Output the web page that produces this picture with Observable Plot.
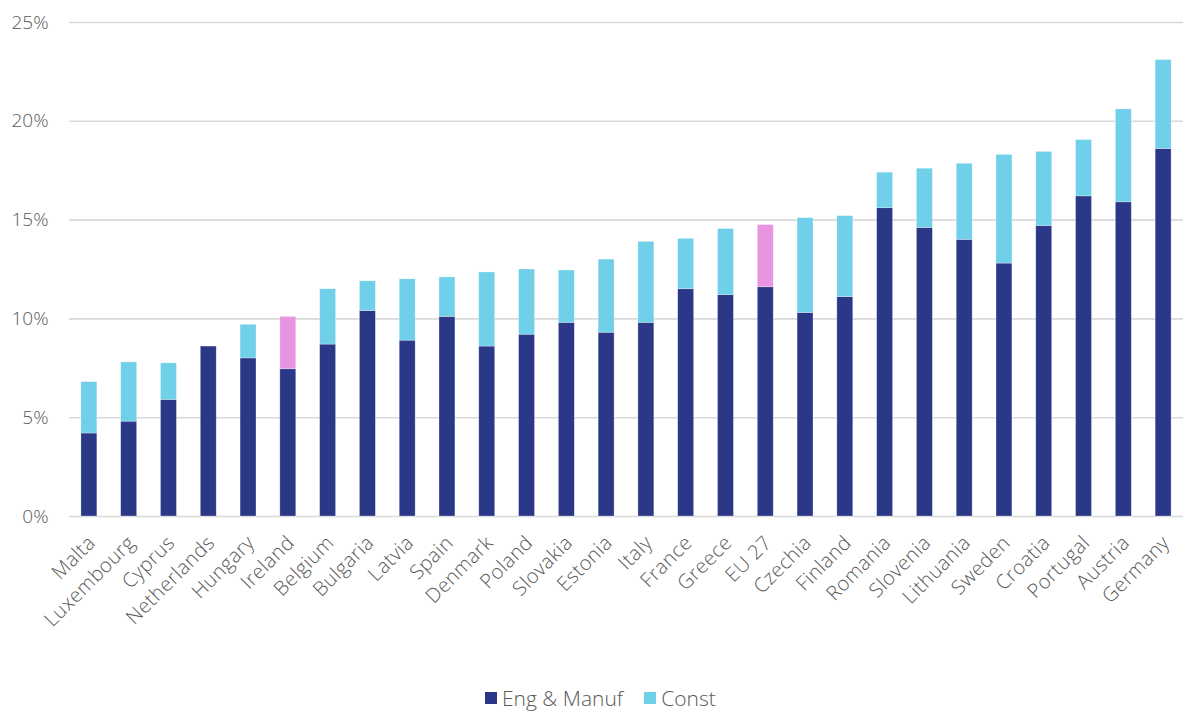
<!DOCTYPE html>
<html>
<head>
<meta charset="utf-8">
<script src="https://cdn.jsdelivr.net/npm/d3@7"></script>
<script src="https://cdn.jsdelivr.net/npm/@observablehq/plot@0.6"></script>
<style>
  html, body { margin: 0; padding: 0; background: #fff; }
  body { width: 1183px; font-family: "Open Sans", Lato, sans-serif; font-weight: 300; }
  #chart svg { display: block; }
  .legend {
    display: flex; align-items: center; height: 26px;
    padding-left: 485px; color: #595959; font-size: 21px; line-height: 26px;
  }
  .legend .item { display: flex; align-items: center; margin-right: 21px; }
  .legend .sw { width: 12px; height: 12px; margin-right: 5px; }
  .xlab text { letter-spacing: 0.4px; }
</style>
</head>
<body>
<div id="chart"></div>
<div class="legend" id="legend"></div>
<script>
// Share of employment, by country (per cent)
const countries = [
  "Malta", "Luxembourg", "Cyprus", "Netherlands", "Hungary", "Ireland", "Belgium",
  "Bulgaria", "Latvia", "Spain", "Denmark", "Poland", "Slovakia", "Estonia", "Italy",
  "France", "Greece", "EU 27", "Czechia", "Finland", "Romania", "Slovenia",
  "Lithuania", "Sweden", "Croatia", "Portugal", "Austria", "Germany"
];
const engManuf = [
  4.2, 4.8, 5.9, 8.6, 8.0, 7.45, 8.7, 10.4, 8.9, 10.1, 8.6, 9.2, 9.8, 9.3, 9.8,
  11.5, 11.2, 11.6, 10.3, 11.1, 15.6, 14.6, 14.0, 12.8, 14.7, 16.2, 15.9, 18.6
];
const construction = [
  2.6, 3.0, 1.85, 0, 1.7, 2.65, 2.8, 1.5, 3.1, 2.0, 3.75, 3.3, 2.65, 3.7, 4.1,
  2.55, 3.35, 3.15, 4.8, 4.1, 1.8, 3.0, 3.85, 5.5, 3.75, 2.85, 4.7, 4.5
];
const highlighted = ["Ireland", "EU 27"];
const seriesNames = ["Eng & Manuf", "Const"];
const yTicks = [0, 5, 10, 15, 20, 25];

const navy = "#2b3888", sky = "#70cfe9", pink = "#e894e0";

const rows = [];
countries.forEach((c, i) => {
  rows.push({country: c, series: "Eng & Manuf", key: "eng", value: engManuf[i]});
  rows.push({country: c, series: "Const", key: highlighted.includes(c) ? "constHL" : "const", value: construction[i]});
});

const chart = Plot.plot({
  width: 1183,
  height: 685,
  marginLeft: 69,
  marginRight: 0,
  marginTop: 22,
  marginBottom: 169,
  style: {fontFamily: "'Open Sans', Lato, sans-serif", fontWeight: 300, color: "#595959", background: "#fff"},
  x: {domain: countries, paddingInner: 0.6, paddingOuter: 0.3, round: false, label: null},
  y: {domain: [0, 25], label: null},
  color: {domain: ["eng", "const", "constHL"], range: [navy, sky, pink]},
  marks: [
    Plot.ruleY(yTicks, {stroke: "#d9d9d9", strokeWidth: 1.6}),
    Plot.barY(rows, Plot.stackY({
      x: "country", y: "value", fill: "key",
      stroke: "#ffffff", strokeOpacity: 0.45, strokeWidth: 0.6
    })),
    Plot.axisY({
      ticks: yTicks, tickFormat: d => d + "%", tickSize: 0, tickPadding: 21,
      fontSize: 19, fill: "#595959", label: null
    }),
    Plot.axisX({
      tickRotate: -45, tickSize: 0, tickPadding: 23, dx: 2.5,
      fontSize: 20, fill: "#595959", label: null, className: "xlab"
    })
  ]
});
document.getElementById("chart").appendChild(chart);

const legendColors = [navy, sky];
const legend = document.getElementById("legend");
seriesNames.forEach((name, i) => {
  const item = document.createElement("div");
  item.className = "item";
  const sw = document.createElement("span");
  sw.className = "sw";
  sw.style.background = legendColors[i];
  const label = document.createElement("span");
  label.textContent = name;
  item.append(sw, label);
  legend.appendChild(item);
});
</script>
</body>
</html>
